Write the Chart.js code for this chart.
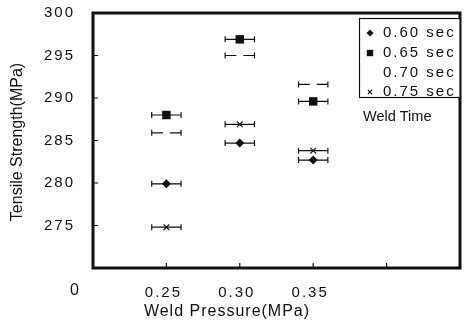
<!DOCTYPE html>
<html>
<head>
<meta charset="utf-8">
<script src="https://cdn.jsdelivr.net/npm/chart.js@4/dist/chart.umd.min.js"></script>
<style>
  html, body { margin: 0; padding: 0; background: #fff; }
</style>
</head>
<body>
<canvas id="myChart" width="466" height="329"></canvas>
<script>
const pressures = [0.25, 0.30, 0.35];
const pressureErr = [0.01, 0.01, 0.01];
const weldTimes = ['0.60 sec', '0.65 sec', '0.70 sec', '0.75 sec'];
const strength060 = [279.9, 284.7, 282.7];
const strength065 = [288.0, 296.9, 289.6];
const strength070 = [285.9, 295.0, 291.6];
const strength075 = [274.8, 286.9, 283.8];
const xTickLabels = ['0.25', '0.30', '0.35'];
const yTickLabels = ['275', '280', '285', '290', '295', '300'];

const ink = '#111';
const fontFamily = "'Liberation Sans', Arial, sans-serif";

const points = (vals) => pressures.map((p, i) => ({ x: p, y: vals[i] }));

const styles = [
  { pointStyle: 'rectRot', radius: 4.5, fill: ink, border: 0 },
  { pointStyle: 'rect', radius: 6, fill: ink, border: 0 },
  { pointStyle: 'circle', radius: 3.5, fill: '#fff', border: 0 },
  { pointStyle: 'crossRot', radius: 4, fill: ink, border: 1.2 },
];

const data = {
  datasets: [strength060, strength065, strength070, strength075].map((vals, i) => ({
    label: weldTimes[i],
    data: points(vals),
    pointStyle: styles[i].pointStyle,
    pointRadius: styles[i].radius,
    pointBackgroundColor: styles[i].fill,
    pointBorderColor: styles[i].border ? ink : styles[i].fill,
    pointBorderWidth: styles[i].border,
    showLine: false,
  }))
};

// horizontal error bars, drawn under the markers
const errorBars = {
  id: 'errorBars',
  beforeDatasetsDraw(chart) {
    const { ctx, scales: { x, y } } = chart;
    ctx.save();
    ctx.strokeStyle = ink;
    ctx.lineWidth = 1.2;
    chart.data.datasets.forEach((ds) => {
      ds.data.forEach((pt, i) => {
        const xl = x.getPixelForValue(pt.x - pressureErr[i]);
        const xr = x.getPixelForValue(pt.x + pressureErr[i]);
        const py = y.getPixelForValue(pt.y);
        ctx.beginPath();
        ctx.moveTo(xl, py); ctx.lineTo(xr, py);
        ctx.moveTo(xl, py - 3); ctx.lineTo(xl, py + 3);
        ctx.moveTo(xr, py - 3); ctx.lineTo(xr, py + 3);
        ctx.stroke();
      });
    });
    ctx.restore();
  }
};

// frame, inner ticks, titles and the boxed legend
const decor = {
  id: 'decor',
  beforeDraw(chart) {
    chart.ctx.letterSpacing = '2px';
  },
  afterDraw(chart) {
    const { ctx, chartArea: a, scales: { x, y } } = chart;
    ctx.save();
    ctx.strokeStyle = ink;
    ctx.fillStyle = ink;

    ctx.lineWidth = 1.2;
    ctx.beginPath();
    y.ticks.forEach(t => {
      if (t.value > y.min && t.value < y.max) {
        const py = y.getPixelForValue(t.value);
        ctx.moveTo(a.left, py); ctx.lineTo(a.left + 5, py);
      }
    });
    x.ticks.forEach(t => {
      if (t.value > x.min + 1e-9 && t.value < x.max - 1e-9) {
        const px = x.getPixelForValue(t.value);
        ctx.moveTo(px, a.bottom); ctx.lineTo(px, a.bottom - 5);
      }
    });
    ctx.stroke();

    ctx.lineWidth = 3;
    ctx.strokeRect(a.left, a.top, a.right - a.left, a.bottom - a.top);

    // axis titles
    ctx.textBaseline = 'middle';
    ctx.textAlign = 'center';
    ctx.letterSpacing = '1px';
    ctx.font = '16px ' + fontFamily;
    ctx.fillText('Weld Pressure(MPa)', 227, 312);
    ctx.fillText('0', 75, 291);
    ctx.letterSpacing = '0px';
    ctx.save();
    ctx.translate(18, 142);
    ctx.rotate(-Math.PI / 2);
    ctx.fillText('Tensile Strength(MPa)', 0, 0);
    ctx.restore();

    // legend box
    ctx.fillStyle = '#fff';
    ctx.fillRect(359, 18, a.right - 359, 79);
    ctx.lineWidth = 1.2;
    ctx.strokeRect(359.5, 18.5, a.right - 359.5, 79);
    ctx.fillStyle = ink;
    ctx.textAlign = 'left';
    ctx.letterSpacing = '2px';
    ctx.font = '15px ' + fontFamily;
    const rows = [33, 53, 73, 92];
    const legendMarks = [3.5, 4.5, 0, 3];
    weldTimes.forEach((label, i) => {
      if (legendMarks[i]) {
        ctx.lineWidth = styles[i].border;
        Chart.helpers.drawPoint(ctx, { pointStyle: styles[i].pointStyle, radius: legendMarks[i], rotation: 0, borderWidth: styles[i].border }, 370, rows[i]);
      }
      ctx.fillText(label, 383, rows[i]);
    });
    ctx.letterSpacing = '0px';
    ctx.font = '14.5px ' + fontFamily;
    ctx.fillText('Weld Time', 363, 117);
    ctx.restore();
  }
};

const config = {
  type: 'scatter',
  data: data,
  options: {
    responsive: false,
    animation: false,
    devicePixelRatio: 1,
    layout: { padding: { top: 13, right: 2, left: 0, bottom: 0 } },
    plugins: { legend: { display: false }, tooltip: { enabled: false } },
    scales: {
      x: {
        type: 'linear',
        min: 0.2,
        max: 0.45,
        afterFit: (s) => { s.height = 61; s.paddingLeft = 0; s.paddingRight = 0; },
        border: { display: false },
        grid: { display: false, drawTicks: false },
        ticks: {
          stepSize: 0.05,
          padding: 16,
          labelOffset: -3,
          color: ink,
          font: { family: fontFamily, size: 15 },
          callback: (v) => {
            const i = pressures.findIndex(p => Math.abs(p - v) < 1e-6);
            return i >= 0 ? xTickLabels[i] : '';
          }
        }
      },
      y: {
        min: 270,
        max: 300,
        afterFit: (s) => { s.width = 93; s.paddingTop = 0; s.paddingBottom = 0; },
        border: { display: false },
        grid: { display: false, drawTicks: false },
        ticks: {
          stepSize: 5,
          padding: 18,
          color: ink,
          font: { family: fontFamily, size: 15 },
          callback: (v) => yTickLabels.includes(String(v)) ? String(v) : ''
        }
      }
    }
  },
  plugins: [errorBars, decor]
};

const myChart = new Chart(document.getElementById('myChart'), config);
</script>
</body>
</html>
